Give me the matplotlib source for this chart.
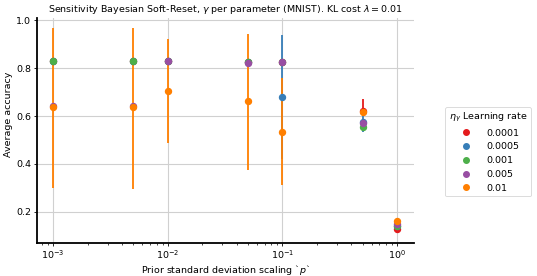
import matplotlib
matplotlib.use("Agg")
import matplotlib.pyplot as plt
from matplotlib.lines import Line2D
import numpy as np

p_values = [0.001, 0.005, 0.01, 0.05, 0.1, 0.5, 1.0]
learning_rates = ["0.0001", "0.0005", "0.001", "0.005", "0.01"]
colors = ["#e41a1c", "#377eb8", "#4daf4a", "#984ea3", "#ff7f00"]

# mean accuracy per learning rate (rows) and p (cols)
mean_acc = [
    [0.830, 0.830, 0.830, 0.824, 0.826, 0.620, 0.130],  # 0.0001
    [0.830, 0.830, 0.830, 0.824, 0.678, 0.575, 0.140],  # 0.0005
    [0.830, 0.830, 0.830, 0.826, 0.826, 0.553, 0.142],  # 0.001
    [0.640, 0.640, 0.830, 0.822, 0.826, 0.572, 0.150],  # 0.005
    [0.636, 0.636, 0.704, 0.661, 0.535, 0.617, 0.163],  # 0.01
]
# error bar lower / upper extents (absolute)
err_low = [
    [0.828, 0.828, 0.828, 0.822, 0.824, 0.600, 0.125],
    [0.828, 0.828, 0.828, 0.822, 0.420, 0.535, 0.135],
    [0.828, 0.828, 0.828, 0.824, 0.824, 0.545, 0.138],
    [0.630, 0.630, 0.828, 0.820, 0.824, 0.565, 0.146],
    [0.300, 0.297, 0.486, 0.375, 0.312, 0.600, 0.158],
]
err_high = [
    [0.832, 0.832, 0.832, 0.826, 0.828, 0.671, 0.135],
    [0.832, 0.832, 0.832, 0.826, 0.937, 0.600, 0.145],
    [0.832, 0.832, 0.832, 0.828, 0.828, 0.560, 0.146],
    [0.650, 0.650, 0.832, 0.824, 0.828, 0.580, 0.154],
    [0.970, 0.970, 0.921, 0.944, 0.757, 0.635, 0.168],
]

fs = 6.8
fig = plt.figure(figsize=(5.37, 2.76), dpi=100)
ax = fig.add_axes([0.069, 0.12, 0.702, 0.815])

for lr, c, m, lo, hi in zip(learning_rates, colors, mean_acc, err_low, err_high):
    m = np.array(m)
    yerr = np.vstack([m - np.array(lo), np.array(hi) - m])
    ax.errorbar(p_values, m, yerr=yerr, fmt="o", color=c, ecolor=c,
                markersize=4.3, elinewidth=1.3, capsize=0, zorder=3)

ax.set_xscale("log")
ax.set_xlim(10**-3.14, 10**0.148)
ax.set_ylim(0.07, 1.01)
ax.set_yticks([0.2, 0.4, 0.6, 0.8, 1.0])
ax.grid(True, which="major", color="#d0d0d0", linewidth=0.8, zorder=0)
ax.set_axisbelow(True)
for s in ["top", "right"]:
    ax.spines[s].set_visible(False)
for s in ["left", "bottom"]:
    ax.spines[s].set_linewidth(1.3)
ax.tick_params(labelsize=fs, length=2.4, width=0.6, pad=1.8)
ax.tick_params(which="minor", length=1.4, width=0.5)

ax.set_title("Sensitivity Bayesian Soft-Reset, $\\gamma$ per parameter (MNIST). KL cost $\\lambda = 0.01$",
             fontsize=fs, pad=4)
ax.set_xlabel("Prior standard deviation scaling `$p$`", fontsize=fs, labelpad=1.5)
ax.set_ylabel("Average accuracy", fontsize=fs)
ax.yaxis.set_label_coords(-0.064, 0.57)

handles = [Line2D([0], [0], marker="o", linestyle="none", color=c, markersize=4.0)
           for c in colors]
leg = ax.legend(handles, learning_rates, title="$\\eta_\\gamma$ Learning rate",
                loc="center left", bbox_to_anchor=(1.082, 0.405), borderaxespad=0,
                fontsize=fs, title_fontsize=fs, frameon=True, handletextpad=1.2)
leg.get_frame().set_edgecolor("#cccccc")
leg.get_frame().set_linewidth(0.6)

fig.savefig("out.png", dpi=100)
